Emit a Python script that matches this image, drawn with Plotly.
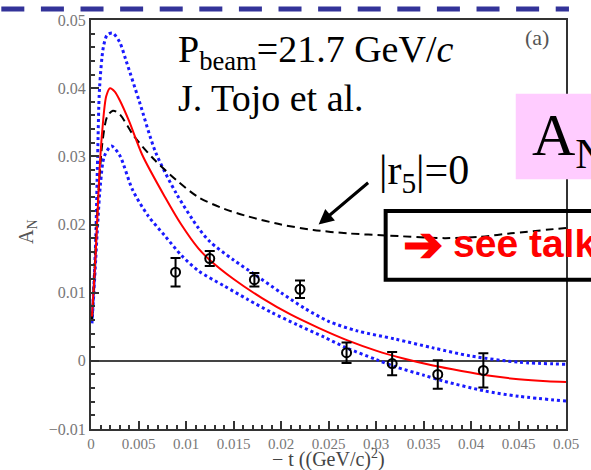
import plotly.graph_objects as go

# ---- data ----
t_data = [0.0089, 0.0125, 0.0172, 0.0220, 0.0269, 0.0317, 0.0365, 0.0413]
an_data = [0.0130, 0.0150, 0.0119, 0.0105, 0.0012, -0.0004, -0.0020, -0.0014]
an_err = [0.0021, 0.0011, 0.0010, 0.0013, 0.0015, 0.0017, 0.0021, 0.0025]

t_red = [0.0001, 0.0003, 0.0005, 0.0007, 0.0009, 0.0012, 0.0016, 0.0020, 0.0025, 0.0030,
         0.0040, 0.0054, 0.0078, 0.0095, 0.0113, 0.0125, 0.0150, 0.0180, 0.0210, 0.0240,
         0.0270, 0.0300, 0.0330, 0.0360, 0.0390, 0.0420, 0.0450, 0.0480, 0.0500]
an_red = [0.0065, 0.0110, 0.0160, 0.0220, 0.0280, 0.0340, 0.0388, 0.0400, 0.0395, 0.0383,
          0.0352, 0.0302, 0.0240, 0.0200, 0.0165, 0.0148, 0.0120, 0.0092, 0.0068, 0.0048,
          0.0030, 0.0015, 0.0003, -0.0007, -0.0015, -0.0022, -0.0027, -0.0030, -0.0031]

t_up = [0.0001, 0.0003, 0.0005, 0.0007, 0.0009, 0.0013, 0.0017, 0.00225, 0.0030, 0.0037,
        0.0051, 0.0068, 0.0090, 0.0113, 0.0125, 0.0150, 0.0172, 0.0200, 0.0225, 0.0250,
        0.0280, 0.0320, 0.0360, 0.0400, 0.0450, 0.0500]
an_up = [0.0060, 0.0110, 0.0180, 0.0300, 0.0400, 0.0460, 0.0478, 0.0481, 0.0468, 0.0440,
         0.0380, 0.0306, 0.0245, 0.0195, 0.0175, 0.0148, 0.0127, 0.0100, 0.0077, 0.0058,
         0.0044, 0.0032, 0.0019, 0.0007, -0.0002, -0.0005]

t_lo = [0.0001, 0.0003, 0.0005, 0.0007, 0.0010, 0.0014, 0.00215, 0.0030, 0.0044, 0.0060,
        0.0078, 0.0095, 0.0113, 0.0140, 0.0165, 0.0190, 0.0217, 0.0245, 0.0269, 0.0300,
        0.0321, 0.0350, 0.0372, 0.0414, 0.0450, 0.0500]
an_lo = [0.0055, 0.0100, 0.0150, 0.0200, 0.0260, 0.0300, 0.0315, 0.0302, 0.0250, 0.0213,
         0.0183, 0.0155, 0.0132, 0.0110, 0.0090, 0.0071, 0.0053, 0.0035, 0.0019, 0.0002,
         -0.0009, -0.0021, -0.0030, -0.0044, -0.0052, -0.0059]

t_r5 = [0.0001, 0.0003, 0.0005, 0.0008, 0.0012, 0.0017, 0.0023, 0.0030, 0.0045, 0.0066,
        0.0090, 0.0113, 0.0140, 0.0165, 0.0200, 0.0234, 0.0270, 0.0310, 0.0372, 0.0410,
        0.0442, 0.0500]
an_r5 = [0.0060, 0.0110, 0.0170, 0.0250, 0.0320, 0.0358, 0.0367, 0.0362, 0.0330, 0.0296,
         0.0265, 0.0240, 0.0223, 0.0212, 0.0200, 0.0192, 0.0187, 0.0184, 0.0180, 0.0182,
         0.0187, 0.0195]

x_ticks = [0, 0.005, 0.01, 0.015, 0.02, 0.025, 0.03, 0.035, 0.04, 0.045, 0.05]
x_labels = ["0", "0.005", "0.01", "0.015", "0.02", "0.025", "0.03", "0.035", "0.04", "0.045", "0.05"]
y_ticks = [-0.01, 0, 0.01, 0.02, 0.03, 0.04, 0.05]
y_labels = ["\u22120.01", "0", "0.01", "0.02", "0.03", "0.04", "0.05"]

# ---- layout geometry (pixels) ----
W, H = 591, 470
L, R, T, B = 91, 573, 18, 429


def px(x):
    return (x - L) / (R - L)


def py(y):
    return (B - y) / (B - T)


SERIF = "Liberation Serif, Times New Roman, serif"
SANS = "Liberation Sans, Arial, sans-serif"

fig = go.Figure()
fig.add_trace(go.Scatter(x=t_lo, y=an_lo, mode="lines",
                         line=dict(color="#1a1aff", width=3, dash="dot", shape="spline", smoothing=0.8)))
fig.add_trace(go.Scatter(x=t_up, y=an_up, mode="lines",
                         line=dict(color="#1a1aff", width=3, dash="dot", shape="spline", smoothing=0.8)))
fig.add_trace(go.Scatter(x=t_r5, y=an_r5, mode="lines",
                         line=dict(color="black", width=2, dash="8px,5px", shape="spline", smoothing=0.8)))
fig.add_trace(go.Scatter(x=t_red, y=an_red, mode="lines",
                         line=dict(color="#ff0000", width=2, shape="spline", smoothing=0.8)))
fig.add_trace(go.Scatter(x=t_data, y=an_data, mode="markers",
                         marker=dict(symbol="circle-open", size=9, color="black", line=dict(width=2)),
                         error_y=dict(type="data", array=an_err, color="black", thickness=2, width=5)))

axis_common = dict(showline=True, linecolor="#333", linewidth=2, mirror=True,
                   ticks="inside", ticklen=8, tickwidth=1.5, tickcolor="#333",
                   showgrid=False)

fig.update_xaxes(range=[0, 0.05], tickmode="array", tickvals=x_ticks, ticktext=x_labels,
                 zeroline=False, tickfont=dict(family=SERIF, size=15, color="#777"),
                 minor=dict(dtick=0.001, ticks="inside", ticklen=4, tickcolor="#333", tickwidth=1.5),
                 **axis_common)
fig.update_yaxes(range=[-0.01, 0.05], tickmode="array", tickvals=y_ticks, ticktext=y_labels,
                 zeroline=True, zerolinecolor="#444", zerolinewidth=1.5,
                 tickfont=dict(family=SERIF, size=16, color="#777"),
                 minor=dict(dtick=0.002, ticks="inside", ticklen=4, tickcolor="#333", tickwidth=1.5),
                 **axis_common)

shapes = [
    # navy dashed line on top of the slide
    dict(type="line", xref="paper", yref="paper", x0=px(0), x1=px(576), y0=py(7), y1=py(7),
         line=dict(color="#333399", width=5, dash="23px,16.6px"), layer="above"),
    # pink box
    dict(type="rect", xref="paper", yref="paper", x0=px(522), x1=px(600), y0=py(178), y1=py(92),
         fillcolor="#ffccff", line=dict(width=0), layer="above"),
    # see talk box
    dict(type="rect", xref="paper", yref="paper", x0=px(390), x1=px(605), y0=py(279), y1=py(210),
         line=dict(color="black", width=4), fillcolor="rgba(0,0,0,0)", layer="above"),
]

annotations = [
    dict(text="P<sub>beam</sub>=21.7 GeV/<i>c</i>", x=px(177), y=py(50), xref="paper", yref="paper",
         xanchor="left", yanchor="middle", showarrow=False, font=dict(family=SERIF, size=38, color="black")),
    dict(text="J. Tojo et al.", x=px(177), y=py(96), xref="paper", yref="paper",
         xanchor="left", yanchor="middle", showarrow=False, font=dict(family=SERIF, size=38, color="black")),
    dict(text="(a)", x=px(544), y=py(36), xref="paper", yref="paper",
         xanchor="center", yanchor="middle", showarrow=False, font=dict(family=SERIF, size=22, color="#555")),
    dict(text="|r<sub>5</sub>|=0", x=px(381), y=py(172), xref="paper", yref="paper",
         xanchor="left", yanchor="middle", showarrow=False, font=dict(family=SERIF, size=42, color="black")),
    dict(text="A<sub>N</sub>", x=px(536), y=py(138), xref="paper", yref="paper",
         xanchor="left", yanchor="middle", showarrow=False, font=dict(family=SERIF, size=60, color="black")),
    dict(text="<b>\u2794</b>", x=px(428), y=py(244), xref="paper", yref="paper",
         xanchor="center", yanchor="middle", showarrow=False, font=dict(family=SANS, size=48, color="#ff0000")),
    dict(text="<b>see talk</b>", x=px(456), y=py(243), xref="paper", yref="paper",
         xanchor="left", yanchor="middle", showarrow=False, font=dict(family=SANS, size=39, color="#ff0000")),
    dict(text="A<sub>N</sub>", x=px(27), y=py(230), xref="paper", yref="paper", textangle=-90,
         xanchor="center", yanchor="middle", showarrow=False, font=dict(family=SERIF, size=20, color="#555")),
    dict(text="\u2212 t ((GeV/c)<sup>2</sup>)", x=px(332), y=py(459), xref="paper", yref="paper",
         xanchor="center", yanchor="middle", showarrow=False, font=dict(family=SERIF, size=20, color="#444")),
    # arrow pointing at the |r5|=0 curve
    dict(text="", x=0.02396, y=0.0200, xref="x", yref="y", ax=51, ay=-43,
         showarrow=True, arrowhead=2, arrowsize=1, arrowwidth=3, arrowcolor="black"),
]

fig.update_layout(width=W, height=H, autosize=False,
                  margin=dict(l=L, r=W - R, t=T, b=H - B),
                  paper_bgcolor="white", plot_bgcolor="white",
                  showlegend=False, shapes=shapes, annotations=annotations)

fig.write_html("out.html")
